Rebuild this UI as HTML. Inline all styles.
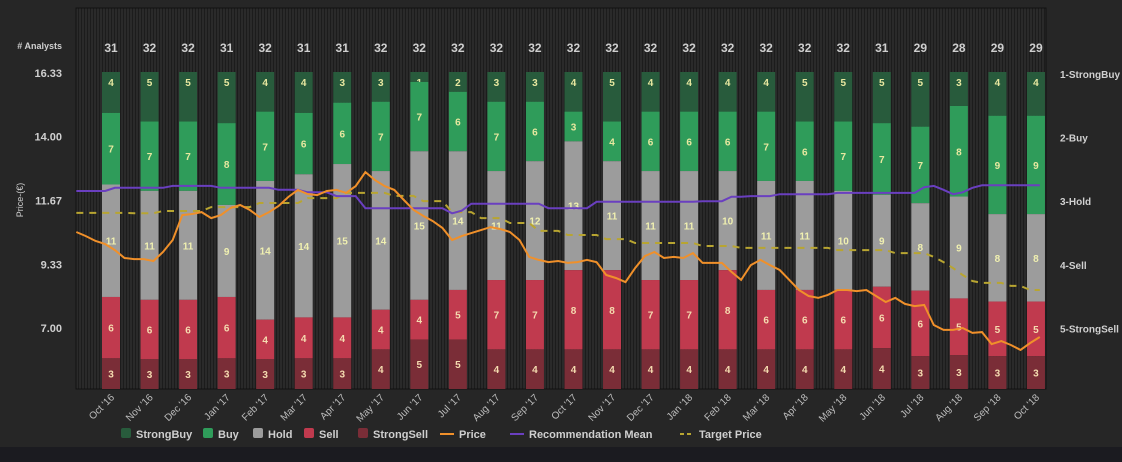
<!DOCTYPE html>
<html><head><meta charset="utf-8"><style>
html,body{margin:0;padding:0;background:#262626;}
#wrap{position:relative;width:1122px;height:462px;background:#262626;overflow:hidden;font-family:"Liberation Sans",sans-serif;}
#foot{position:absolute;left:0;top:447px;width:1122px;height:15px;background:#1b1b20;}
</style></head><body>
<div id="wrap">
<svg id="chart" width="1122" height="462">
<defs><pattern id="stripes" width="3" height="10" patternUnits="userSpaceOnUse"><rect width="3" height="10" fill="#2a2a2a"/><rect width="1" height="10" fill="#1c1c1c"/></pattern></defs>
</svg>
<div id="foot"></div>
</div>
<script>
const months=["Oct '16","Nov '16","Dec '16","Jan '17","Feb '17","Mar '17","Apr '17","May '17","Jun '17","Jul '17","Aug '17","Sep '17","Oct '17","Nov '17","Dec '17","Jan '18","Feb '18","Mar '18","Apr '18","May '18","Jun '18","Jul '18","Aug '18","Sep '18","Oct '18"];
const strongBuy=[4,5,5,5,4,4,3,3,1,2,3,3,4,5,4,4,4,4,5,5,5,5,3,4,4];
const buy=[7,7,7,8,7,6,6,7,7,6,7,6,3,4,6,6,6,7,6,7,7,7,8,9,9];
const hold=[11,11,11,9,14,14,15,14,15,14,11,12,13,11,11,11,10,11,11,10,9,8,9,8,8];
const sell=[6,6,6,6,4,4,4,4,4,5,7,7,8,8,7,7,8,6,6,6,6,6,5,5,5];
const strongSell=[3,3,3,3,3,3,3,4,5,5,4,4,4,4,4,4,4,4,4,4,4,3,3,3,3];
const priceTicks=["16.33","14.00","11.67","9.33","7.00"];
const ratingTicks=["1-StrongBuy","2-Buy","3-Hold","4-Sell","5-StrongSell"];
const seriesStart=-0.9, seriesStep=0.25;
const price=[10.51,10.36,10.18,10.07,9.85,9.56,9.52,9.52,9.45,9.78,10.22,11.13,11.17,11.24,11.02,11.13,11.39,11.50,11.32,11.06,11.24,11.46,11.79,12.05,11.90,11.86,12.01,12.05,11.94,12.19,12.70,12.41,12.19,12.05,11.68,11.32,11.10,10.91,10.66,10.22,10.36,10.47,10.58,10.69,10.62,10.51,10.22,9.60,9.49,9.41,9.45,9.38,9.41,9.49,9.41,8.94,8.83,8.68,9.19,9.63,9.78,9.56,9.60,9.56,9.74,9.38,9.38,9.38,9.05,8.76,9.30,9.49,9.30,9.12,8.76,8.39,8.17,8.10,8.21,8.39,8.39,8.35,8.39,8.17,7.95,8.10,7.88,7.80,7.84,7.11,6.93,6.93,7.00,6.82,6.85,6.41,6.52,6.38,6.20,6.45,6.67];
const recMean=[2.84,2.84,2.84,2.84,2.79,2.79,2.79,2.79,2.79,2.79,2.76,2.76,2.76,2.76,2.76,2.79,2.79,2.79,2.79,2.79,2.79,2.82,2.82,2.82,2.86,2.86,2.86,2.92,2.92,2.92,3.11,3.11,3.11,3.11,3.11,3.11,3.11,3.11,3.11,3.19,3.15,3.04,3.04,3.04,3.04,3.04,3.04,3.04,3.04,3.11,3.11,3.11,3.11,3.11,3.01,3.01,3.01,3.01,3.01,3.01,3.01,3.01,3.01,3.01,3.01,3.00,3.00,3.00,2.93,2.93,2.92,2.92,2.92,2.89,2.89,2.89,2.89,2.89,2.89,2.87,2.87,2.87,2.87,2.87,2.87,2.87,2.87,2.87,2.78,2.76,2.82,2.89,2.86,2.79,2.75,2.75,2.75,2.75,2.75,2.75,2.75];
const target=[11.21,11.21,11.21,11.21,11.21,11.21,11.2,11.2,11.2,11.28,11.28,11.28,11.28,11.28,11.42,11.42,11.42,11.42,11.42,11.57,11.57,11.57,11.57,11.57,11.75,11.75,11.75,11.75,11.94,11.94,11.94,11.94,11.94,11.83,11.83,11.83,11.64,11.64,11.64,11.24,11.24,11.24,11.02,11.02,11.02,10.84,10.84,10.84,10.55,10.55,10.55,10.40,10.40,10.40,10.40,10.25,10.25,10.25,10.11,10.11,10.11,10.11,10.11,10.11,10.11,10.00,10.00,10.00,10.00,9.93,9.93,9.93,9.93,9.93,9.93,9.93,9.93,9.93,9.93,9.85,9.85,9.85,9.85,9.85,9.85,9.74,9.74,9.74,9.74,9.60,9.41,9.19,8.94,8.72,8.65,8.65,8.65,8.54,8.54,8.39,8.39];

const NS='http://www.w3.org/2000/svg';
const svg=document.getElementById('chart');
function mk(tag,attrs,parent){const e=document.createElementNS(NS,tag);for(const k in attrs)e.setAttribute(k,attrs[k]);(parent||svg).appendChild(e);return e;}
const PL=76,PR=1046,PT=8,PB=389,BT=72;
const xT=t=>111+t*38.54;
const yP=p=>328-(p-7)*63.8/2.3333;
const yR=r=>74+(r-1)*63.6;

const bg=mk('rect',{x:PL,y:PT,width:PR-PL,height:PB-PT,fill:'url(#stripes)',stroke:'#111','stroke-width':1});



const segs=[[strongBuy,'#285b3c','strong-buy','#e8e8a0'],[buy,'#2f9c5a','buy','#e8e8a0'],[hold,'#9c9c9c','hold','#f0f0b0'],[sell,'#c03a4e','sell','#f5dcb0'],[strongSell,'#7a2d37','strong-sell','#f5dcb0']];
months.forEach((m,i)=>{
  const tot=strongBuy[i]+buy[i]+hold[i]+sell[i]+strongSell[i];
  let y=BT;const cx=xT(i);
  segs.forEach(s=>{
    const h=s[0][i]/tot*(PB-BT);
    const r=mk('rect',{x:cx-9,y:y,width:18,height:h,fill:s[1]});
    
    
    const t=mk('text',{x:cx,y:y+(s[2]==='strong-buy'?10:h/2)+4,'text-anchor':'middle','font-size':10,'font-weight':'bold',fill:s[3]});
    t.textContent=s[0][i];
    
    
    y+=h;
  });
  const c=mk('text',{x:cx,y:52,'text-anchor':'middle','font-size':12,'font-weight':'bold',fill:'#cfcfcf'});
  c.textContent=tot;
  
  
  const xl=mk('text',{x:cx+4,y:398,'text-anchor':'end','font-size':10,fill:'#bdbdbd',transform:`rotate(-45 ${cx+4} 398)`});
  xl.textContent=m;
  
  
});
const ha=mk('text',{x:62,y:49,'text-anchor':'end','font-size':9,'font-weight':'bold',fill:'#d0d0d0'});
ha.textContent='# Analysts';


priceTicks.forEach(p=>{
  const t=mk('text',{x:62,y:yP(+p)+4,'text-anchor':'end','font-size':11,'font-weight':'bold',fill:'#d0d0d0'});
  t.textContent=p;
  
  
});
ratingTicks.forEach((r,i)=>{
  const t=mk('text',{x:1060,y:yR(i+1)+4,'font-size':10,'font-weight':'bold',fill:'#d0d0d0'});
  t.textContent=r;
  
  
});
const yt=mk('text',{x:23,y:200,'text-anchor':'middle','font-size':9,fill:'#d0d0d0',transform:'rotate(-90 23 200)'});
yt.textContent='Price-(€)';



function line(arr,yf,color,w,dash,name){
  const pts=arr.map((v,k)=>xT(seriesStart+k*seriesStep).toFixed(1)+','+yf(v).toFixed(1)).join(' ');
  const l=mk('polyline',{points:pts,fill:'none',stroke:color,'stroke-width':w,'stroke-dasharray':dash||'none'});
  
  
}
line(target,yP,'#b8a531',2,'7,6','target-price-line');
line(recMean,yR,'#6a3fc0',2,null,'recommendation-mean-line');
line(price,yP,'#f0902a',2,null,'price-line');

const legend=[['StrongBuy','#285b3c','box'],['Buy','#2f9c5a','box'],['Hold','#9c9c9c','box'],['Sell','#c03a4e','box'],['StrongSell','#7a2d37','box'],['Price','#f0902a','line'],['Recommendation Mean','#6a3fc0','line'],['Target Price','#b8a531','dash']];
const lx=[121,203,253,304,358,440,510,680];
legend.forEach((l,i)=>{
  const g=mk('g',{});
  
  
  let tx;
  if(l[2]==='box'){mk('rect',{x:lx[i],y:428,width:10,height:10,rx:2,fill:l[1]},g);tx=lx[i]+15;}
  else{mk('line',{x1:lx[i],y1:434,x2:lx[i]+14,y2:434,stroke:l[1],'stroke-width':2,'stroke-dasharray':l[2]==='dash'?'4,3':'none'},g);tx=lx[i]+19;}
  const t=mk('text',{x:tx,y:438,'font-size':11,'font-weight':'bold',fill:'#cfcfcf'},g);
  t.textContent=l[0];
});
</script>
</body></html>
